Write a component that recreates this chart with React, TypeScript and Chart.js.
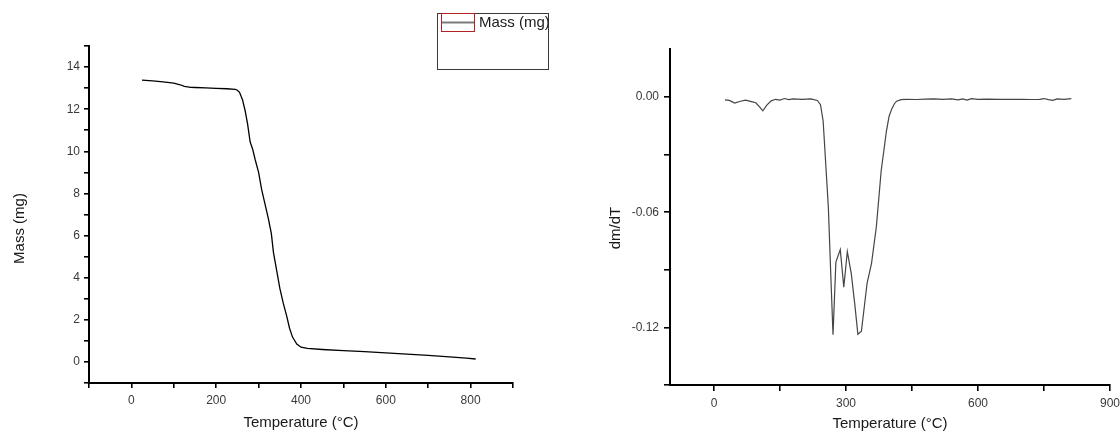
import React, { useEffect, useRef } from 'react';
import { Chart, registerables } from 'chart.js';

Chart.register(...registerables);

// ---- TGA (mass) curve ----
const massTemperature = [
  25, 50, 75, 100, 115, 125, 140, 150, 175, 200, 225, 245, 250, 255, 262, 268, 274, 280,
  286, 292, 300, 307, 315, 323, 330, 335, 343, 350, 358, 366, 373, 380, 390, 400, 415,
  450, 500, 550, 600, 650, 700, 750, 790, 812,
];
const massValues = [
  13.38, 13.34, 13.3, 13.24, 13.16, 13.08, 13.04, 13.03, 13.01, 12.99, 12.97, 12.94, 12.9,
  12.8, 12.45, 11.95, 11.3, 10.45, 10.1, 9.6, 9.0, 8.2, 7.5, 6.8, 6.1, 5.2, 4.3, 3.5, 2.8,
  2.2, 1.6, 1.18, 0.85, 0.7, 0.64, 0.59, 0.54, 0.49, 0.43, 0.37, 0.31, 0.24, 0.18, 0.14,
];

// ---- DTG (dm/dT) curve ----
const dtgTemperature = [
  25, 35, 47, 60, 72, 85, 95, 105, 111, 120, 130, 140, 150, 160, 170, 180, 200, 220, 235,
  242, 248, 254, 260, 265, 270.5, 277, 287, 295, 303, 312, 320, 327, 335, 348, 358, 369,
  380, 386, 392, 398, 404, 410, 415, 425, 437, 460, 480, 500, 520, 540, 555, 565, 575,
  585, 600, 620, 650, 680, 700, 720, 740, 750, 760, 770, 780, 795, 812,
];
const dtgValues = [
  -0.0015, -0.0018, -0.0032, -0.0022, -0.0016, -0.0024, -0.003, -0.0055, -0.0072, -0.0042,
  -0.002, -0.0012, -0.0016, -0.0008, -0.0014, -0.001, -0.0012, -0.001, -0.0018, -0.004,
  -0.0124, -0.035, -0.058, -0.09, -0.1238, -0.086, -0.0795, -0.099, -0.0805, -0.092,
  -0.108, -0.1236, -0.122, -0.0969, -0.0866, -0.0676, -0.0383, -0.028, -0.0176, -0.01,
  -0.0062, -0.0035, -0.0022, -0.0014, -0.0012, -0.0013, -0.0011, -0.001, -0.0012, -0.001,
  -0.0015, -0.001, -0.0016, -0.0009, -0.0012, -0.0011, -0.0012, -0.0012, -0.0012, -0.0013,
  -0.0012, -0.0008, -0.0014, -0.0017, -0.001, -0.0012, -0.0008,
];

// ---- ticks ----
const massXTicks = [-100, 0, 100, 200, 300, 400, 500, 600, 700, 800, 900];
const massXLabels = ['', '0', '', '200', '', '400', '', '600', '', '800', ''];
const massYTicks = [-1, 0, 1, 2, 3, 4, 5, 6, 7, 8, 9, 10, 11, 12, 13, 14, 15];
const massYLabels = ['', '0', '', '2', '', '4', '', '6', '', '8', '', '10', '', '12', '', '14', ''];
const dtgXTicks = [0, 150, 300, 450, 600, 750, 900];
const dtgXLabels = ['0', '', '300', '', '600', '', '900'];
const dtgYTicks = [-0.15, -0.12, -0.09, -0.06, -0.03, 0];
const dtgYLabels = ['', '-0.12', '', '-0.06', '', '0.00'];

const FONT = '"Liberation Sans", Arial, sans-serif';
const TICK_COLOR = '#3a3a3a';
const TITLE_COLOR = '#1a1a1a';

const legendBoxPlugin = {
  id: 'legendBox',
  afterDraw(chart: any) {
    const ctx = chart.ctx;
    const label = chart.data.datasets[0].label;
    ctx.save();
    ctx.strokeStyle = '#3a3a3a';
    ctx.lineWidth = 1;
    ctx.strokeRect(437.5, 13.5, 111, 56);
    ctx.strokeStyle = '#b22222';
    ctx.strokeRect(441.5, 13.5, 33, 18);
    ctx.strokeStyle = '#7a7a7a';
    ctx.lineWidth = 2;
    ctx.beginPath();
    ctx.moveTo(442, 22.5);
    ctx.lineTo(474, 22.5);
    ctx.stroke();
    ctx.fillStyle = '#1a1a1a';
    ctx.font = '15px ' + FONT;
    ctx.textBaseline = 'middle';
    ctx.textAlign = 'left';
    ctx.fillText(label, 479, 23);
    ctx.restore();
  },
};

function axis(opts: {
  min: number;
  max: number;
  tickValues: number[];
  tickLabels: string[];
  size: number;
  horizontal: boolean;
  title: string;
  titleSize: number;
  titlePad: number;
  titleShift: number;
  labelPad: number;
  tickLength: number;
}) {
  return {
    type: 'linear',
    min: opts.min,
    max: opts.max,
    afterBuildTicks: (s: any) => {
      s.ticks = opts.tickValues.map((v) => ({ value: v }));
    },
    afterFit: (s: any) => {
      if (opts.horizontal) s.height = opts.size;
      else s.width = opts.size;
      s.paddingLeft = 0;
      s.paddingRight = 0;
      s.paddingTop = 0;
      s.paddingBottom = 0;
      if (opts.titleShift && !s.__shifted) {
        const orig = s.drawTitle.bind(s);
        s.drawTitle = () => {
          s.ctx.save();
          s.ctx.translate(0, opts.titleShift);
          orig();
          s.ctx.restore();
        };
        s.__shifted = true;
      }
    },
    ticks: {
      autoSkip: false,
      maxRotation: 0,
      minRotation: 0,
      padding: opts.labelPad,
      color: TICK_COLOR,
      font: { family: FONT, size: 12 },
      callback: (_v: any, i: number) => opts.tickLabels[i],
    },
    grid: {
      drawOnChartArea: false,
      drawTicks: true,
      tickLength: opts.tickLength,
      color: '#000',
      lineWidth: 1.6,
    },
    border: { display: true, color: '#000', width: 2 },
    title: {
      display: true,
      text: opts.title,
      color: TITLE_COLOR,
      font: { family: FONT, size: opts.titleSize },
      padding: opts.horizontal ? { top: 0, bottom: opts.titlePad } : { top: opts.titlePad, bottom: 0 },
    },
  };
}

function MassChart() {
  const ref = useRef<HTMLCanvasElement>(null);
  useEffect(() => {
    const chart = new Chart(ref.current as HTMLCanvasElement, {
      type: 'line',
      data: {
        datasets: [
          {
            label: 'Mass (mg)',
            data: massTemperature.map((t, i) => ({ x: t, y: massValues[i] })),
            borderColor: '#000',
            borderWidth: 1.3,
            pointRadius: 0,
            tension: 0,
            fill: false,
          },
        ],
      },
      options: {
        responsive: false,
        animation: false,
        layout: { padding: { left: 0, right: 47, top: 46, bottom: 0 } },
        plugins: { legend: { display: false }, tooltip: { enabled: false } },
        scales: {
          x: axis({
            min: -100, max: 900, tickValues: massXTicks, tickLabels: massXLabels, size: 51,
            horizontal: true, title: 'Temperature (°C)', titleSize: 15, titlePad: 2, titleShift: 0,
            labelPad: 5, tickLength: 5,
          }),
          y: axis({
            min: -1, max: 15, tickValues: massYTicks, tickLabels: massYLabels, size: 89,
            horizontal: false, title: 'Mass (mg)', titleSize: 15, titlePad: 11, titleShift: 14,
            labelPad: 4, tickLength: 5,
          }),
        } as any,
      },
      plugins: [legendBoxPlugin],
    } as any);
    return () => chart.destroy();
  }, []);
  return <canvas ref={ref} width={560} height={434} style={{ position: 'absolute', left: 0, top: 0 }} />;
}

function DtgChart() {
  const ref = useRef<HTMLCanvasElement>(null);
  useEffect(() => {
    const chart = new Chart(ref.current as HTMLCanvasElement, {
      type: 'line',
      data: {
        datasets: [
          {
            label: 'dm/dT',
            data: dtgTemperature.map((t, i) => ({ x: t, y: dtgValues[i] })),
            borderColor: '#454545',
            borderWidth: 1.2,
            pointRadius: 0,
            tension: 0,
            fill: false,
          },
        ],
      },
      options: {
        responsive: false,
        animation: false,
        layout: { padding: { left: 0, right: 10, top: 49, bottom: 0 } },
        plugins: { legend: { display: false }, tooltip: { enabled: false } },
        scales: {
          x: axis({
            min: -100, max: 900, tickValues: dtgXTicks, tickLabels: dtgXLabels, size: 49,
            horizontal: true, title: 'Temperature (°C)', titleSize: 15, titlePad: 1, titleShift: 0,
            labelPad: 5, tickLength: 6,
          }),
          y: axis({
            min: -0.15, max: 0.025, tickValues: dtgYTicks, tickLabels: dtgYLabels, size: 110,
            horizontal: false, title: 'dm/dT', titleSize: 15, titlePad: 47, titleShift: 11,
            labelPad: 5, tickLength: 6,
          }),
        } as any,
      },
    } as any);
    return () => chart.destroy();
  }, []);
  return <canvas ref={ref} width={560} height={434} style={{ position: 'absolute', left: 560, top: 0 }} />;
}

export default function App() {
  return (
    <div style={{ position: 'fixed', left: 0, top: 0, width: 1120, height: 434, background: '#fff', overflow: 'hidden' }}>
      <MassChart />
      <DtgChart />
    </div>
  );
}
